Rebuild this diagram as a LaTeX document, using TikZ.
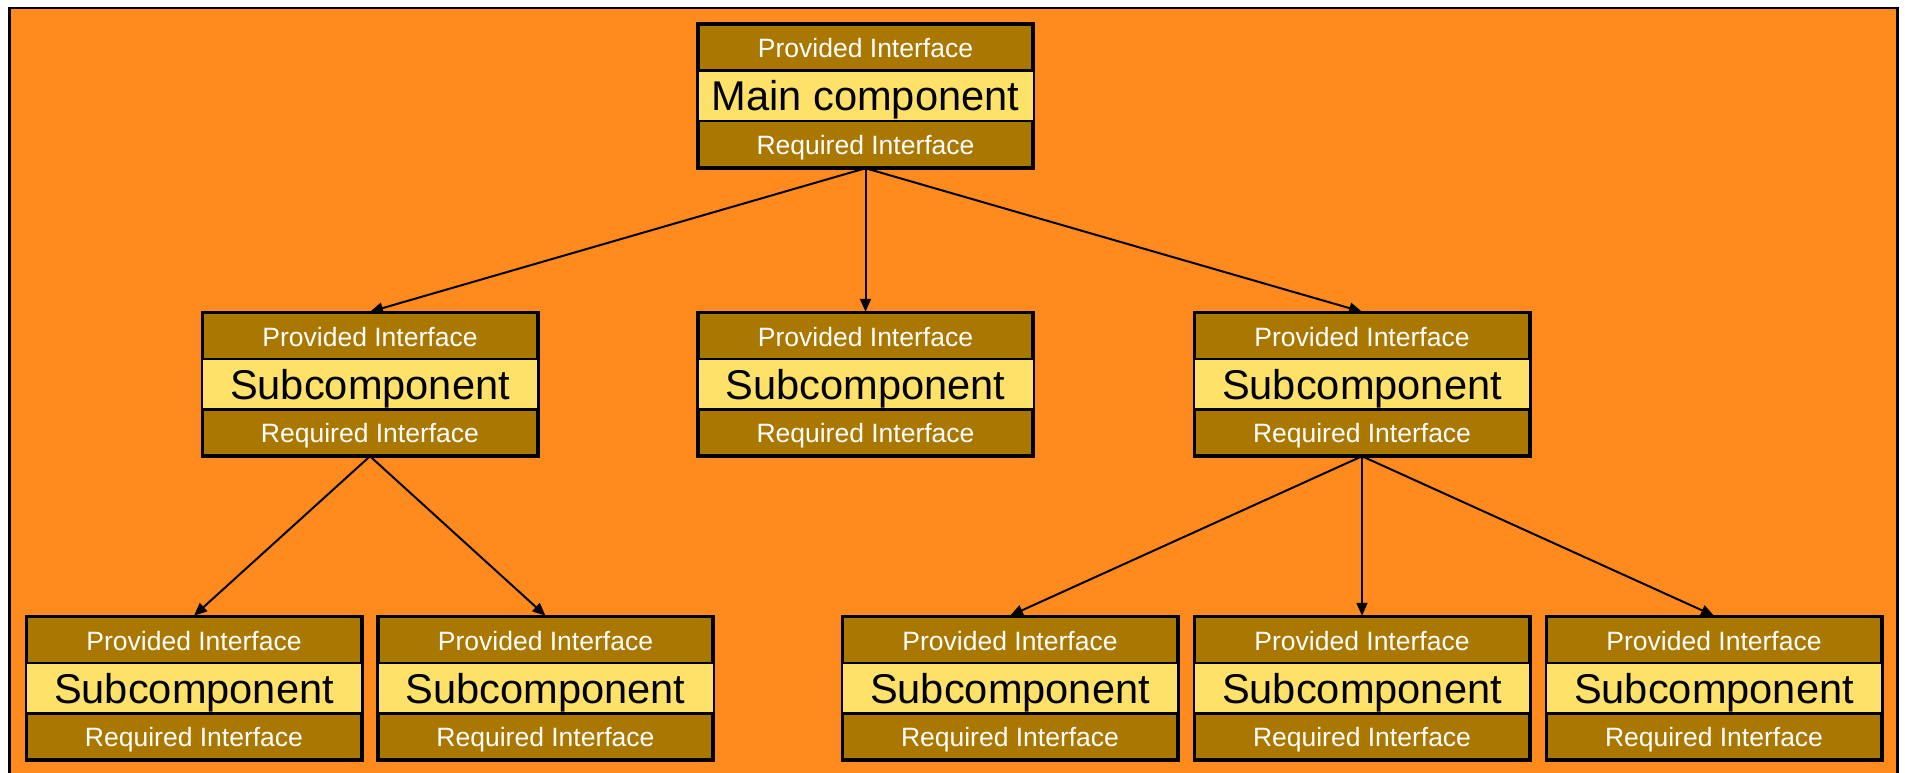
\documentclass[tikz,border=0pt]{standalone}
\usepackage{fontspec}
\setmainfont{Liberation Sans}
\usetikzlibrary{arrows.meta}
\definecolor{bgorange}{RGB}{255,139,30}
\definecolor{ifbrown}{RGB}{170,120,0}
\definecolor{compyellow}{RGB}{253,225,104}
\tikzset{
  compbox/.style={draw=black, line width=2.5pt, fill=ifbrown, minimum width=334pt, minimum height=142pt, inner sep=0pt},
  iftext/.style={text=white, font=\fontsize{26.5}{30}\selectfont, anchor=base, inner sep=0pt},
  nametext/.style={text=black, font=\fontsize{41.6}{46}\selectfont, anchor=base, inner sep=0pt},
  divider/.style={draw=black, line width=2.5pt},
  arr/.style={draw=black, line width=2pt, -{Triangle[length=13pt,width=11pt]}}
}
% #1 name, #2 centre x, #3 top y, #4 label
\newcommand\compnt[4]{%
  \node[compbox] (#1) at (#2, #3+72) {};
  \fill[compyellow] ([yshift=-47pt]#1.north west) rectangle ([yshift=47pt]#1.south east);
  \draw[divider] ([yshift=-47pt]#1.north west) -- ([yshift=-47pt]#1.north east);
  \draw[divider] ([yshift=47pt]#1.south west) -- ([yshift=47pt]#1.south east);
  \draw[divider] (#1.north west) rectangle (#1.south east);
  \node[iftext] (#1-p) at (#2, #3+34) {Provided Interface};
  \node[nametext] (#1-n) at (#2, #3+87) {#4};
  \node[iftext] (#1-r) at (#2, #3+130) {Required Interface};
}
\begin{document}
\begin{tikzpicture}[x=1pt,y=-1pt]
  \useasboundingbox (0,0) rectangle (1905,773);
  \fill[white] (0,0) rectangle (1905,773);
  \draw[line width=2.5pt, fill=bgorange] (9.5,8) rectangle (1897.5,790);
  \compnt{main}{865.5}{24}{Main component}
  \compnt{sa}{370}{312}{Subcomponent}
  \compnt{sb}{865.5}{312}{Subcomponent}
  \compnt{sc}{1362}{312}{Subcomponent}
  \compnt{ta}{194}{616}{Subcomponent}
  \compnt{tb}{545.5}{616}{Subcomponent}
  \compnt{tc}{1010}{616}{Subcomponent}
  \compnt{td}{1362}{616}{Subcomponent}
  \compnt{te}{1714}{616}{Subcomponent}
  \draw[arr] (main.south) -- (sa.north);
  \draw[arr] (main.south) -- (sb.north);
  \draw[arr] (main.south) -- (sc.north);
  \draw[arr] (sa.south) -- (ta.north);
  \draw[arr] (sa.south) -- (tb.north);
  \draw[arr] (sc.south) -- (tc.north);
  \draw[arr] (sc.south) -- (td.north);
  \draw[arr] (sc.south) -- (te.north);
\end{tikzpicture}
\end{document}
